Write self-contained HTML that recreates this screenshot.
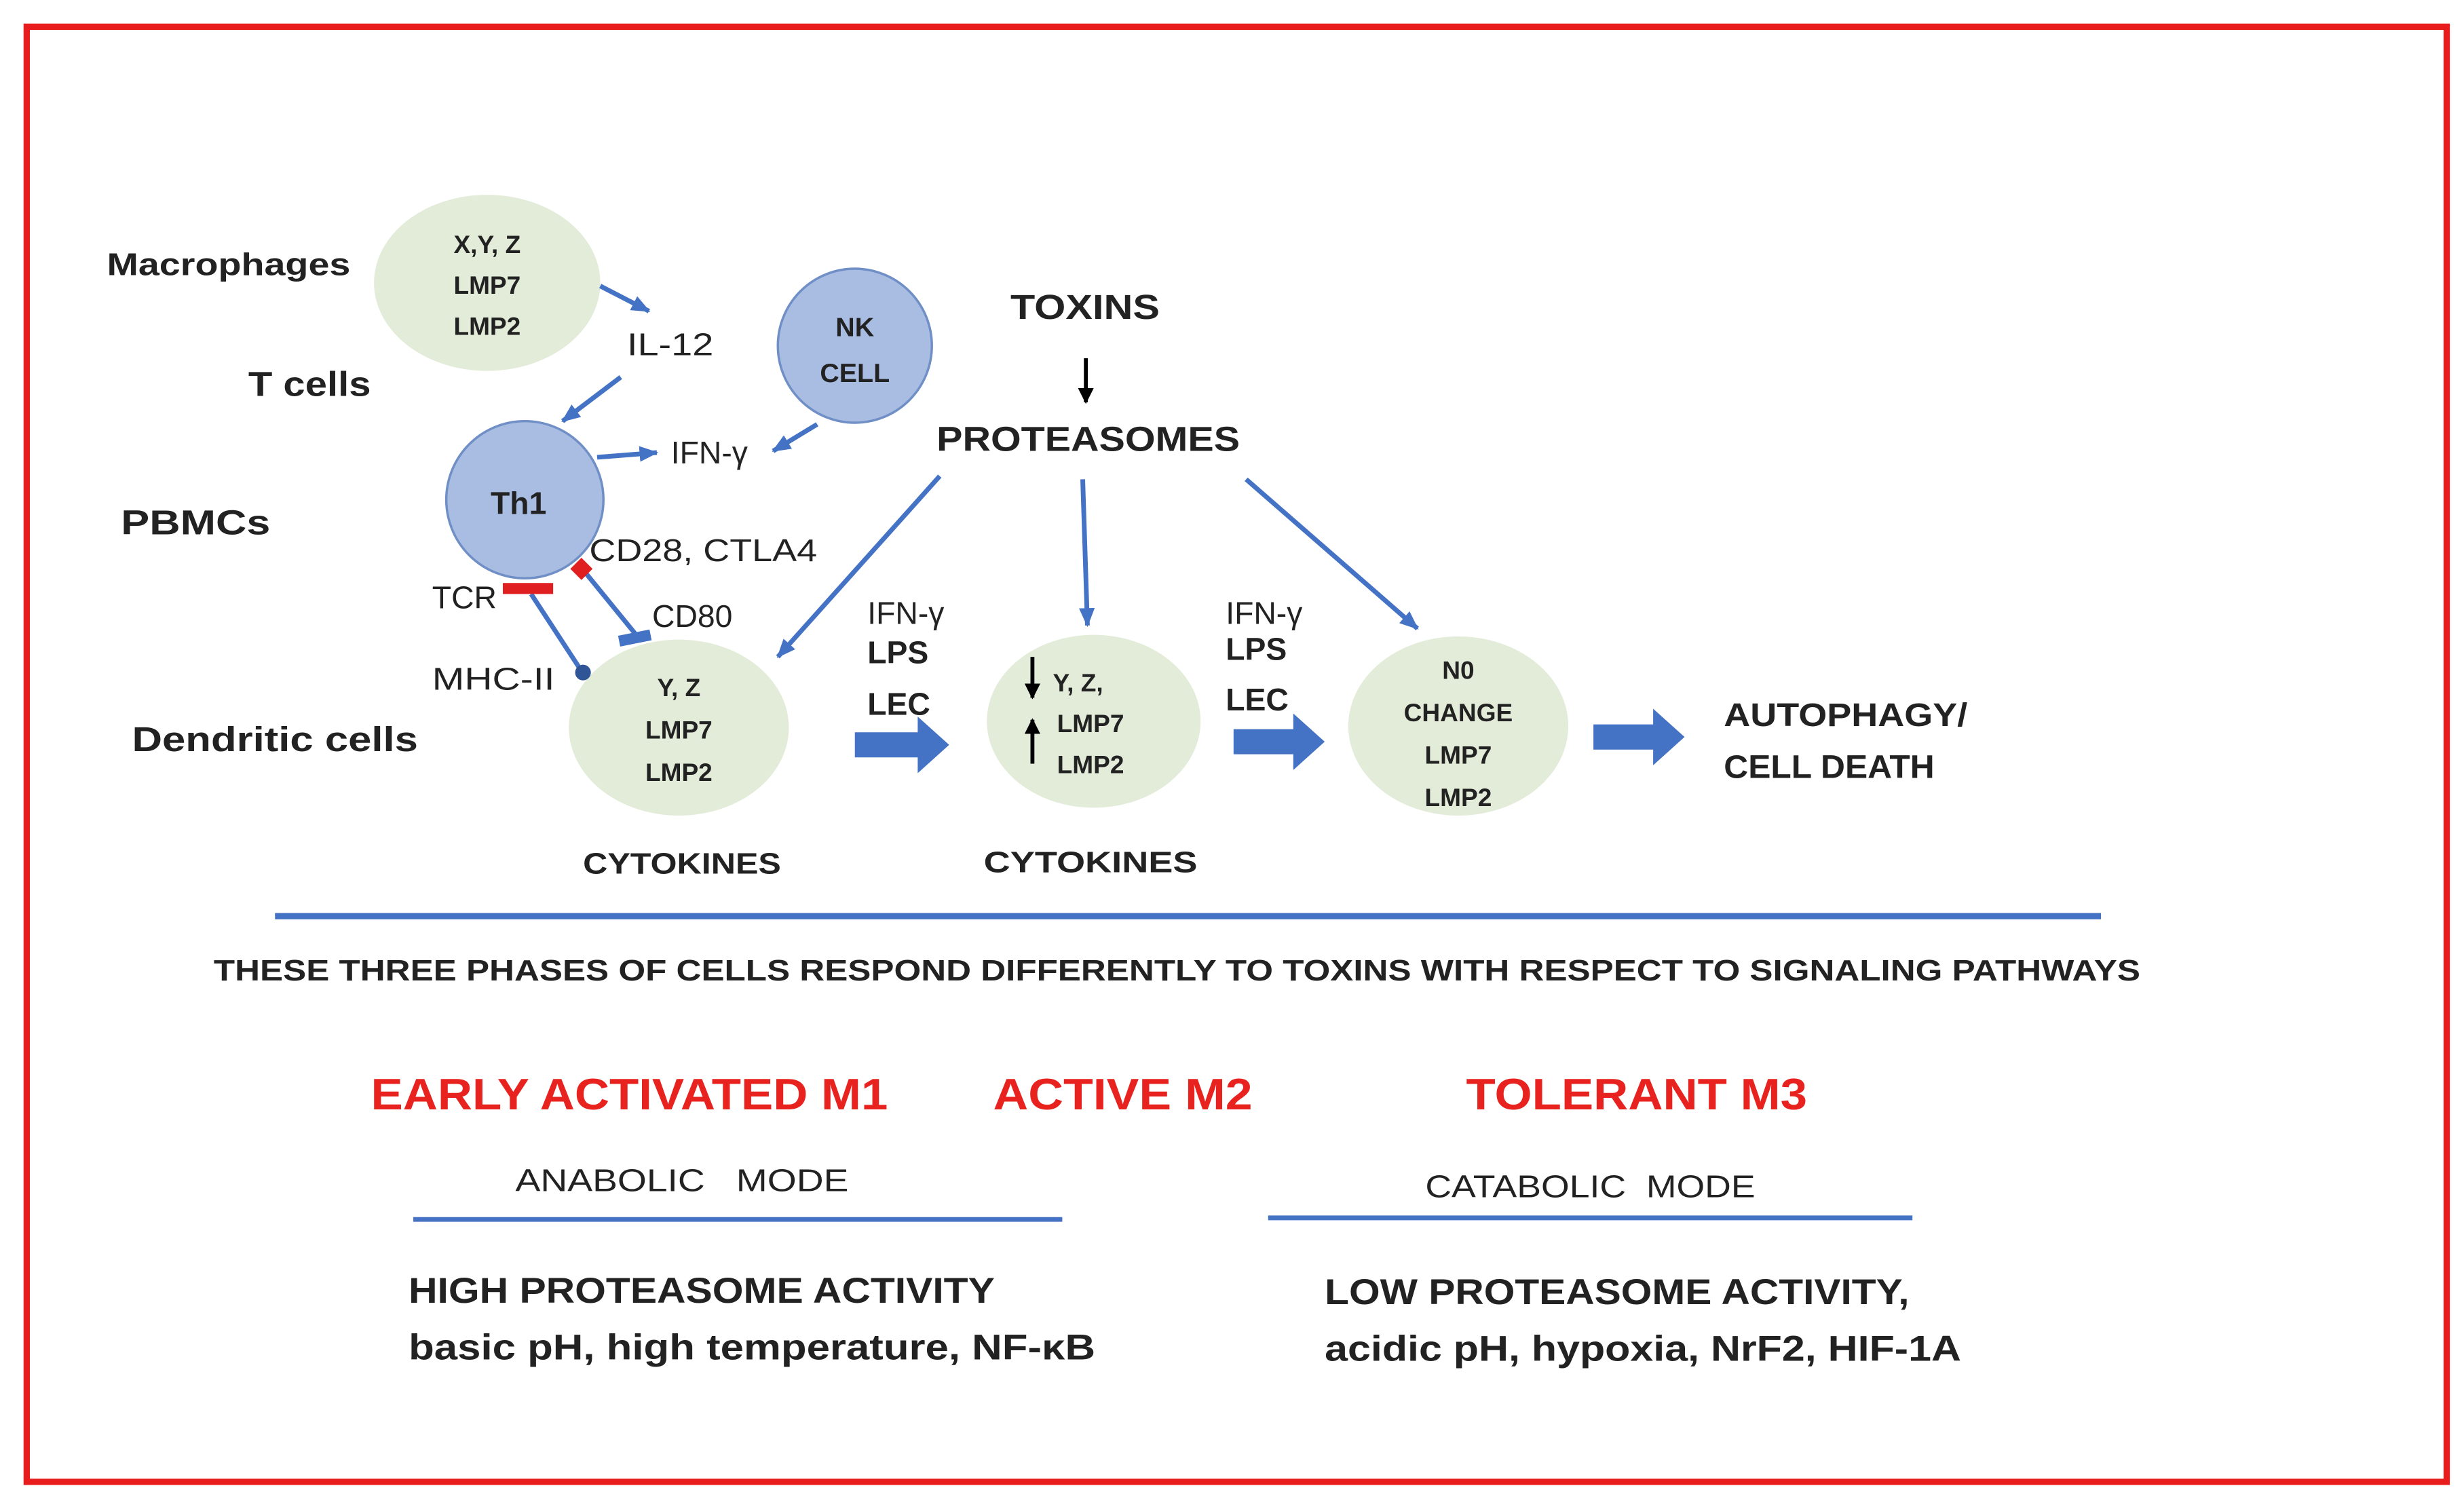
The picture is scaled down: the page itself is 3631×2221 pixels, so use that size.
<!DOCTYPE html>
<html><head><meta charset="utf-8"><style>html,body{margin:0;padding:0;background:#fff}svg{display:block}</style></head>
<body>
<svg width="3631" height="2221" viewBox="0 0 1568 959" preserveAspectRatio="none" xmlns="http://www.w3.org/2000/svg" font-family="Liberation Sans, sans-serif" font-weight="bold">
<defs>
<marker id="a" markerWidth="12" markerHeight="10" refX="11" refY="5" orient="auto" markerUnits="userSpaceOnUse" viewBox="0 0 12 10"><path d="M0,0 L12,5 L0,10 Z" fill="#4472c4"/></marker>
<marker id="k" markerWidth="10" markerHeight="10" refX="9" refY="5" orient="auto" markerUnits="userSpaceOnUse" viewBox="0 0 10 10"><path d="M0,0 L10,5 L0,10 Z" fill="#000"/></marker>
</defs>
<rect x="17" y="17" width="1540" height="926" fill="#fff" stroke="#e81c1c" stroke-width="4"/>
<g fill="#e2ecd8">
<ellipse cx="310" cy="180" rx="72" ry="56"/>
<ellipse cx="432" cy="463" rx="70" ry="56"/>
<ellipse cx="696" cy="459" rx="68" ry="55"/>
<ellipse cx="928" cy="462" rx="70" ry="57"/>
</g>
<g fill="#a9bde3" stroke="#6f8fc6" stroke-width="1.5">
<circle cx="544" cy="220" r="49"/>
<circle cx="334" cy="318" r="50"/>
</g>
<g stroke="#4472c4" stroke-width="3" fill="none" marker-end="url(#a)">
<line x1="382" y1="182" x2="413" y2="198"/>
<line x1="395" y1="240" x2="358" y2="268"/>
<line x1="380" y1="291" x2="418" y2="288"/>
<line x1="520" y1="270" x2="492" y2="287"/>
<line x1="598" y1="303" x2="495" y2="418"/>
<line x1="689" y1="305" x2="692" y2="398"/>
<line x1="793" y1="305" x2="902" y2="400"/>
</g>
<g stroke="#4472c4" stroke-width="3">
<line x1="338" y1="378" x2="370" y2="427"/>
<line x1="373" y1="365" x2="404" y2="403"/>
<line x1="394" y1="408" x2="414" y2="404" stroke-width="7"/>
</g>
<circle cx="371" cy="428" r="5" fill="#2f5597"/>
<rect x="320" y="371" width="32" height="7" fill="#e02020"/>
<rect x="365" y="357" width="10" height="10" fill="#e02020" transform="rotate(45 370 362)"/>
<line x1="691" y1="228" x2="691" y2="256" stroke="#000" stroke-width="2.5" marker-end="url(#k)"/>
<line x1="657" y1="418" x2="657" y2="444" stroke="#000" stroke-width="2.5" marker-end="url(#k)"/>
<line x1="657" y1="486" x2="657" y2="458" stroke="#000" stroke-width="2.5" marker-end="url(#k)"/>
<g fill="#4472c4">
<path d="M544,466 H584 V456 L604,474 L584,492 V482 H544 Z"/>
<path d="M785,464 H823 V454 L843,472 L823,490 V480 H785 Z"/>
<path d="M1014,461 H1052 V451 L1072,469 L1052,487 V477 H1014 Z"/>
</g>
<g fill="#222" font-size="20">
<text x="68" y="175" textLength="155" lengthAdjust="spacingAndGlyphs">Macrophages</text>
<text x="158" y="252" font-size="22" textLength="78" lengthAdjust="spacingAndGlyphs">T cells</text>
<text x="77" y="340" font-size="22" textLength="95" lengthAdjust="spacingAndGlyphs">PBMCs</text>
<text x="84" y="478" font-size="22" textLength="182" lengthAdjust="spacingAndGlyphs">Dendritic cells</text>
<text x="399" y="226" font-weight="normal" textLength="55" lengthAdjust="spacingAndGlyphs">IL-12</text>
<text x="427" y="295" font-weight="normal">IFN-γ</text>
<text x="375" y="357" font-weight="normal" font-size="20" textLength="145" lengthAdjust="spacingAndGlyphs">CD28, CTLA4</text>
<text x="275" y="387" font-weight="normal" font-size="20">TCR</text>
<text x="415" y="399" font-weight="normal" font-size="20">CD80</text>
<text x="275" y="439" font-weight="normal" font-size="20" textLength="78" lengthAdjust="spacingAndGlyphs">MHC-II</text>
<text x="643" y="203" font-size="22" textLength="95" lengthAdjust="spacingAndGlyphs">TOXINS</text>
<text x="596" y="287" font-size="22" textLength="193" lengthAdjust="spacingAndGlyphs">PROTEASOMES</text>
<text x="552" y="397" font-size="20" font-weight="normal">IFN-γ</text>
<text x="552" y="422" font-size="20">LPS</text>
<text x="552" y="455" font-size="20">LEC</text>
<text x="780" y="397" font-size="20" font-weight="normal">IFN-γ</text>
<text x="780" y="420" font-size="20">LPS</text>
<text x="780" y="452" font-size="20">LEC</text>
<text x="1097" y="462" font-size="21" textLength="155" lengthAdjust="spacingAndGlyphs">AUTOPHAGY/</text>
<text x="1097" y="495" font-size="21" textLength="134" lengthAdjust="spacingAndGlyphs">CELL DEATH</text>
<text x="371" y="556" font-size="19" textLength="126" lengthAdjust="spacingAndGlyphs">CYTOKINES</text>
<text x="626" y="555" font-size="19" textLength="136" lengthAdjust="spacingAndGlyphs">CYTOKINES</text>
</g>
<g fill="#222" font-size="16" text-anchor="middle">
<text x="310" y="161">X,Y, Z</text><text x="310" y="187">LMP7</text><text x="310" y="213">LMP2</text>
<text x="544" y="214" font-size="17">NK</text><text x="544" y="243" font-size="17">CELL</text>
<text x="330" y="327" font-size="20">Th1</text>
<text x="432" y="443">Y, Z</text><text x="432" y="470">LMP7</text><text x="432" y="497">LMP2</text>
<text x="670" y="440" text-anchor="start">Y, Z,</text>
<text x="694" y="466">LMP7</text><text x="694" y="492">LMP2</text>
<text x="928" y="432">N0</text><text x="928" y="459">CHANGE</text><text x="928" y="486">LMP7</text><text x="928" y="513">LMP2</text>
</g>
<line x1="175" y1="583" x2="1337" y2="583" stroke="#4472c4" stroke-width="4"/>
<text x="136" y="624" font-size="19" fill="#222" textLength="1226" lengthAdjust="spacingAndGlyphs">THESE THREE PHASES OF CELLS RESPOND DIFFERENTLY TO TOXINS WITH RESPECT TO SIGNALING PATHWAYS</text>
<g fill="#e8231f" font-size="28">
<text x="236" y="706" textLength="329" lengthAdjust="spacingAndGlyphs">EARLY ACTIVATED M1</text>
<text x="632" y="706" textLength="165" lengthAdjust="spacingAndGlyphs">ACTIVE M2</text>
<text x="933" y="706" textLength="217" lengthAdjust="spacingAndGlyphs">TOLERANT M3</text>
</g>
<g fill="#222" font-size="20" font-weight="normal">
<text x="328" y="758" textLength="212" lengthAdjust="spacingAndGlyphs" xml:space="preserve">ANABOLIC   MODE</text>
<text x="907" y="762" textLength="210" lengthAdjust="spacingAndGlyphs" xml:space="preserve">CATABOLIC  MODE</text>
</g>
<line x1="263" y1="776" x2="676" y2="776" stroke="#4472c4" stroke-width="3"/>
<line x1="807" y1="775" x2="1217" y2="775" stroke="#4472c4" stroke-width="3"/>
<g fill="#222" font-size="23">
<text x="260" y="829" textLength="373" lengthAdjust="spacingAndGlyphs">HIGH PROTEASOME ACTIVITY</text>
<text x="260" y="865" textLength="437" lengthAdjust="spacingAndGlyphs">basic pH, high temperature, NF-κB</text>
<text x="843" y="830" textLength="372" lengthAdjust="spacingAndGlyphs">LOW PROTEASOME ACTIVITY,</text>
<text x="843" y="866" textLength="405" lengthAdjust="spacingAndGlyphs">acidic pH, hypoxia, NrF2, HIF-1A</text>
</g>
</svg>
</body></html>
